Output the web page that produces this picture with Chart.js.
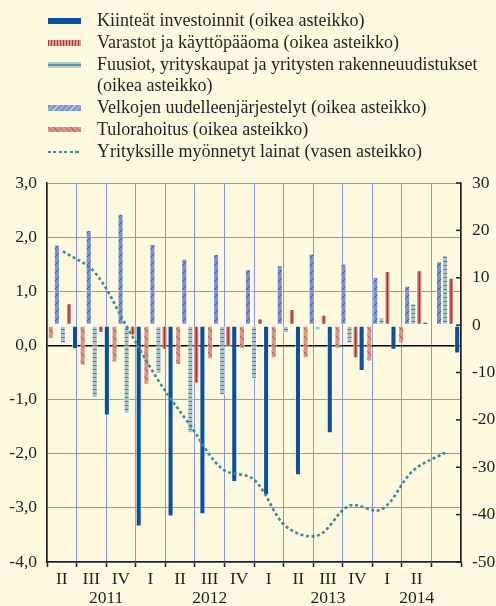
<!DOCTYPE html>
<html>
<head>
<meta charset="utf-8">
<script src="https://cdn.jsdelivr.net/npm/chart.js@4.4.1/dist/chart.umd.min.js"></script>
<style>
  html, body { margin: 0; padding: 0; background: #fdf9df; }
  #wrap { position: relative; width: 496px; height: 606px; overflow: hidden; }
  #chart { position: absolute; left: 0; top: 0; }
  #legend {
    position: absolute; left: 0; top: 10px;
    font-family: 'Liberation Serif', 'Times New Roman', serif;
    font-size: 18px; line-height: 21.8px; color: #231f20;
  }
  .item { position: relative; padding-left: 97px; white-space: nowrap; }
  .sw { position: absolute; left: 48px; width: 33px; top: 8px; height: 6px; }
  .kiint { background: #0b4f9f; height: 5.5px; }
  .var { background: repeating-linear-gradient(90deg, #b3362d 0 1.5px, #dc9b91 1.5px 3px); }
  .fuus { background: linear-gradient(#b4ced6 0 2px, #5892a0 2px 4px, #b4ced6 4px 6px); }
  .velk { background: repeating-linear-gradient(135deg, #7f95d2 0 3px, #c5d0ee 3px 4px); height: 5.5px; }
  .tulo { background: repeating-linear-gradient(45deg, #d9978c 0 3px, #b9665c 3px 4px); height: 5.5px; }
  .line { background: repeating-linear-gradient(90deg, #3e8a99 0 3px, transparent 3px 5.5px); height: 2.5px; top: 10px; }
</style>
</head>
<body>
<div id="wrap">
  <canvas id="chart" width="496" height="606"></canvas>
  <div id="legend">
    <div class="item"><span class="sw kiint"></span>Kiinteät investoinnit (oikea asteikko)</div>
    <div class="item"><span class="sw var"></span>Varastot ja käyttöpääoma (oikea asteikko)</div>
    <div class="item"><span class="sw fuus"></span>Fuusiot, yrityskaupat ja yritysten rakenneuudistukset<br>(oikea asteikko)</div>
    <div class="item"><span class="sw velk"></span>Velkojen uudelleenjärjestelyt (oikea asteikko)</div>
    <div class="item"><span class="sw tulo"></span>Tulorahoitus (oikea asteikko)</div>
    <div class="item"><span class="sw line"></span>Yrityksille myönnetyt lainat (vasen asteikko)</div>
  </div>
</div>
<script>
// Neljännekset 2011 II - 2014 II
const quarters = ['II', 'III', 'IV', 'I', 'II', 'III', 'IV', 'I', 'II', 'III', 'IV', 'I', 'II'];
const years = ['2011', '2012', '2013', '2014'];

// Pylväät (oikea asteikko)
const tulorahoitus = [-2.9, -8.5, -7.9, -12.6, -8.4, -7.2, -5.0, -7.0, -7.0, -5.0, -7.7, -3.9, -0.2];
const velkojen = [17.0, 20.1, 23.5, 17.1, 14.0, 15.0, 11.8, 12.7, 15.1, 13.0, 10.2, 8.3, 13.5];
const fuusiot = [-3.9, -15.4, -18.7, -10.3, -22.8, -14.8, -11.3, -1.7, -1.1, -3.9, 1.7, 4.6, 14.8];
const varastot = [4.6, -1.6, -2.2, -5.2, -12.3, -4.6, 1.4, 3.4, 2.2, -7.0, 11.4, 11.6, 10.0];
const kiinteat = [-5.1, -19.1, -42.5, -40.4, -39.9, -33.1, -35.9, -31.7, -22.8, -9.7, -5.2, 0.7, -6.0];

// Viiva (vasen asteikko)
const lainat = [1.74, 1.35, 0.35, -0.65, -1.48, -2.28, -2.48, -3.34, -3.51, -2.96, -3.03, -2.31, -1.98];

const ink = '#231f20';
const gridBlue = '#8799dc';
const fontFamily = "'Liberation Serif', 'Times New Roman', serif";

Chart.defaults.font.family = fontFamily;
Chart.defaults.font.size = 17.5;
Chart.defaults.color = ink;

// Kuviot pylväisiin
function makePattern(size, base, draw) {
    const c = document.createElement('canvas');
    c.width = size;
    c.height = size;
    const g = c.getContext('2d');
    g.fillStyle = base;
    g.fillRect(0, 0, size, size);
    draw(g, size);
    return g.createPattern(c, 'repeat');
}

const velkPattern = makePattern(8, '#7d93d0', (g, s) => {
    g.strokeStyle = '#3559a8';
    g.lineWidth = 1;
    g.beginPath();
    g.moveTo(0, s); g.lineTo(s, 0);
    g.moveTo(-1, 1); g.lineTo(1, -1);
    g.moveTo(s - 1, s + 1); g.lineTo(s + 1, s - 1);
    g.stroke();
});

const tuloPattern = makePattern(8, '#d69689', (g, s) => {
    g.strokeStyle = '#b34f45';
    g.lineWidth = 1;
    g.beginPath();
    g.moveTo(0, 0); g.lineTo(s, s);
    g.moveTo(-1, s - 1); g.lineTo(1, s + 1);
    g.moveTo(s - 1, -1); g.lineTo(s + 1, 1);
    g.stroke();
});

const fuusPattern = makePattern(4, '#a9c6cf', (g, s) => {
    g.fillStyle = '#468795';
    g.fillRect(0, 1, s, 1);
});

// Keskiviiva varastopylväisiin
const centerStripe = {
    id: 'centerStripe',
    afterDatasetDraw(chart, args) {
        const ds = chart.data.datasets[args.index];
        if (!ds.stripe) return;
        const ctx = chart.ctx;
        ctx.save();
        ctx.strokeStyle = ds.stripe;
        ctx.lineWidth = 1.3;
        args.meta.data.forEach(bar => {
            const top = Math.min(bar.y, bar.base) + 1;
            const bottom = Math.max(bar.y, bar.base) - 1;
            if (bottom - top < 3) return;
            ctx.beginPath();
            ctx.moveTo(bar.x, top);
            ctx.lineTo(bar.x, bottom);
            ctx.stroke();
        });
        ctx.restore();
    }
};

// Vuodet neljännesten alle ja oikean asteikon sisäänpäin osoittavat merkit
const extras = {
    id: 'extras',
    afterDraw(chart) {
        const ctx = chart.ctx;
        const yR = chart.scales.yR;
        const xq = chart.scales.xq;
        ctx.save();
        ctx.strokeStyle = ink;
        ctx.lineWidth = 1.5;
        yR.ticks.forEach(t => {
            const y = yR.getPixelForValue(t.value);
            ctx.beginPath();
            ctx.moveTo(yR.left - 5, y);
            ctx.lineTo(yR.left, y);
            ctx.stroke();
        });

        const starts = [];
        quarters.forEach((q, i) => { if (i === 0 || q === 'I') starts.push(i); });
        ctx.fillStyle = ink;
        ctx.font = '17.5px ' + fontFamily;
        ctx.textAlign = 'center';
        ctx.textBaseline = 'middle';
        starts.forEach((s, k) => {
            const end = k + 1 < starts.length ? starts[k + 1] : quarters.length;
            ctx.fillText(years[k], xq.getPixelForValue((s + end) / 2), 598);
        });
        ctx.restore();
    }
};

const barCommon = {
    type: 'bar',
    yAxisID: 'yR',
    borderColor: 'rgba(255,255,255,0.55)',
    borderWidth: 1,
    borderSkipped: false,
    categoryPercentage: 0.95,
    barPercentage: 1.0,
    order: 1
};

new Chart(document.getElementById('chart').getContext('2d'), {
    type: 'bar',
    data: {
        labels: quarters,
        datasets: [
            { ...barCommon, label: 'Tulorahoitus', data: tulorahoitus, backgroundColor: tuloPattern },
            { ...barCommon, label: 'Velkojen uudelleenjärjestelyt', data: velkojen, backgroundColor: velkPattern },
            { ...barCommon, label: 'Fuusiot', data: fuusiot, backgroundColor: fuusPattern },
            { ...barCommon, label: 'Varastot ja käyttöpääoma', data: varastot, backgroundColor: '#d4877c', stripe: '#a82c25' },
            { ...barCommon, label: 'Kiinteät investoinnit', data: kiinteat, backgroundColor: '#0b4f9f' },
            {
                type: 'line',
                label: 'Yrityksille myönnetyt lainat',
                data: lainat,
                yAxisID: 'yL',
                borderColor: '#3e8a99',
                borderWidth: 2.6,
                borderDash: [3, 2.6],
                pointRadius: 0,
                tension: 0.35,
                fill: false,
                order: 0
            }
        ]
    },
    options: {
        responsive: false,
        animation: false,
        layout: { padding: { top: 183, left: 0, right: 0, bottom: 0 } },
        plugins: {
            legend: { display: false },
            tooltip: { enabled: false }
        },
        scales: {
            x: { type: 'category', offset: true, display: false },
            xq: {
                type: 'linear',
                position: 'bottom',
                min: 0,
                max: quarters.length,
                afterFit: s => { s.height = 44; },
                grid: { color: gridBlue, lineWidth: 1, tickColor: ink, tickLength: 5, tickWidth: 1.5 },
                border: { color: ink, width: 1.5 },
                ticks: {
                    stepSize: 1,
                    autoSkip: false,
                    maxRotation: 0,
                    padding: 2,
                    callback: v => quarters[v] || ''
                }
            },
            yL: {
                position: 'left',
                min: -4,
                max: 3,
                afterFit: s => { s.width = 47; },
                grid: {
                    color: c => (c.tick && c.tick.value === 0) ? '#000' : gridBlue,
                    lineWidth: c => (c.tick && c.tick.value === 0) ? 1.6 : 1,
                    drawTicks: false
                },
                border: { color: ink, width: 1.5 },
                ticks: {
                    stepSize: 1,
                    padding: 10,
                    callback: v => v.toFixed(1).replace('.', ',')
                }
            },
            yR: {
                position: 'right',
                min: -50,
                max: 30,
                afterFit: s => { s.width = 35; },
                grid: { drawOnChartArea: false, drawTicks: false },
                border: { color: ink, width: 1.5 },
                ticks: { stepSize: 10, padding: 11 }
            }
        }
    },
    plugins: [centerStripe, extras]
});
</script>
</body>
</html>
